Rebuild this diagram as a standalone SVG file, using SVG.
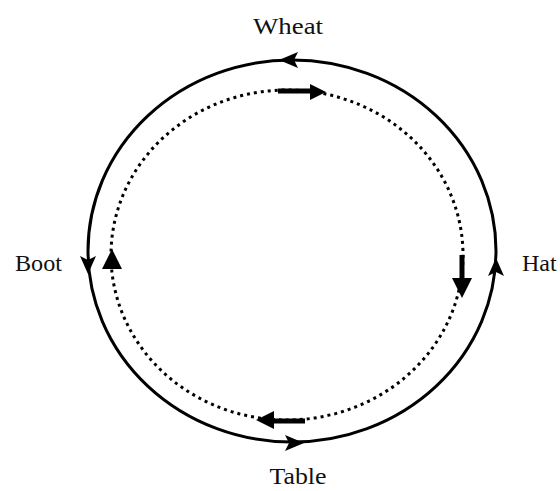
<svg xmlns="http://www.w3.org/2000/svg" width="560" height="491" viewBox="0 0 560 491">
<style>
.lbl{font-family:"Liberation Serif","Times New Roman",serif;font-size:24px;fill:#111}
.outer{fill:none;stroke:#000;stroke-width:3}
.inner{fill:none;stroke:#000;stroke-width:3;stroke-dasharray:3 4}
.shaft{stroke:#000;stroke-width:5;fill:none}
.head{fill:#000}
</style>
<rect width="560" height="491" fill="#fff"/>
<g id="connectors">
<ellipse class="outer" cx="292" cy="251" rx="204" ry="191"/>
<ellipse class="inner" cx="287" cy="255" rx="176" ry="165"/>
<!-- outer arrowheads -->
<polygon class="head" points="279,60 298,52 294,60 298,68"/>
<polygon class="head" points="88,274 80,256 88,260 96,256"/>
<polygon class="head" points="304,443 285,435 289,443 285,451"/>
<polygon class="head" points="496,258 504,276 496,272 488,276"/>
<!-- inner arrows -->
<line class="shaft" x1="278" y1="91" x2="312" y2="91"/>
<polygon class="head" points="326,92 310,84 310,100"/>
<line class="shaft" x1="462" y1="255" x2="462" y2="282"/>
<polygon class="head" points="462,298 452,278 472,278"/>
<line class="shaft" x1="305" y1="421" x2="272" y2="421"/>
<polygon class="head" points="256,420 274,411 274,429"/>
<polygon class="head" points="112,249 102,269 122,269"/>
</g>
<g id="wheat"><text class="lbl" x="288" y="34" text-anchor="middle" textLength="70" lengthAdjust="spacingAndGlyphs">Wheat</text></g>
<g id="boot"><text class="lbl" x="15" y="271" textLength="47" lengthAdjust="spacingAndGlyphs">Boot</text></g>
<g id="hat"><text class="lbl" x="522" y="271">Hat</text></g>
<g id="table"><text class="lbl" x="298" y="484" text-anchor="middle" textLength="57" lengthAdjust="spacingAndGlyphs">Table</text></g>
</svg>
